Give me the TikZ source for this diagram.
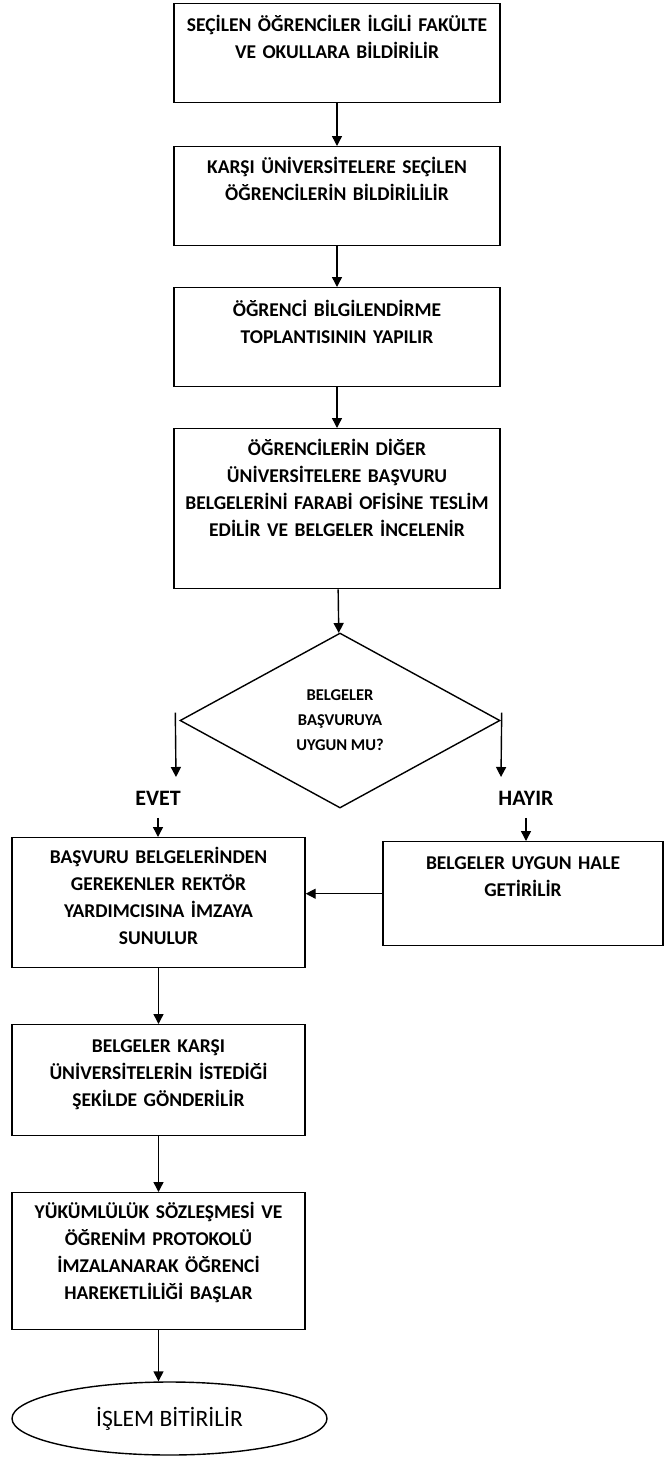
\documentclass[tikz,border=0pt]{standalone}
\usepackage{fontspec}
\setmainfont{Carlito}
\usetikzlibrary{shapes.geometric, arrows.meta}

\begin{document}
\begin{tikzpicture}[x=1pt, y=-1pt, line width=1.4pt,
        stepbox/.style={draw, rectangle, anchor=north, inner sep=0pt,
            text width=#1, align=center, text height=28pt,
            font=\bfseries\fontsize{19.5}{27}\selectfont},
        decision/.style={draw, diamond, minimum width=320pt,
            minimum height=175pt, inner sep=0pt, align=center,
            font=\bfseries\fontsize{16.5}{25}\selectfont},
        endbox/.style={draw, ellipse, minimum width=315pt,
            minimum height=73pt, inner sep=0pt,
            font=\fontsize{23.5}{27}\selectfont},
        branch/.style={inner sep=12pt, font=\bfseries\fontsize{22}{26}\selectfont},
        arr/.style={-{Triangle[width=10pt, length=10pt]}}]
        \useasboundingbox (0, 0) rectangle (665, 1457);
        % main column, first four steps
        \node[stepbox=326pt, text height=28pt, text depth=71pt] (sel) at (337, 3)
            {SEÇİLEN ÖĞRENCİLER İLGİLİ FAKÜLTE\\VE OKULLARA BİLDİRİLİR};
        \node[stepbox=326pt, text height=27pt, text depth=72pt] (kar) at (337, 146)
            {KARŞI ÜNİVERSİTELERE SEÇİLEN\\ÖĞRENCİLERİN BİLDİRİLİLİR};
        \node[stepbox=326pt, text height=29pt, text depth=70pt] (top) at (337, 287)
            {ÖĞRENCİ BİLGİLENDİRME\\TOPLANTISININ YAPILIR};
        \node[stepbox=326pt, text height=27pt, text depth=133pt] (tes) at (337, 428)
            {ÖĞRENCİLERİN DİĞER\\ÜNİVERSİTELERE BAŞVURU\\BELGELERİNİ FARABİ OFİSİNE TESLİM\\EDİLİR VE BELGELER İNCELENİR};
        \draw[arr] (sel) -- (kar);
        \draw[arr] (kar) -- (top);
        \draw[arr] (top) -- (tes);
        % the check, with its two ways out
        \node[decision] (chk) at (340, 720.5) {BELGELER\\BAŞVURUYA\\UYGUN MU?};
        \draw[arr] (tes) -- (chk);
        \coordinate (yesend) at (176, 777);
        \coordinate (noend) at (501, 777);
        \draw[arr] ([xshift=-4pt, yshift=8pt]chk.west) -- (yesend);
        \draw[arr] ([xshift=1pt, yshift=8pt]chk.east) -- (noend);
        \node[branch] (evet) at (158, 798) {EVET};
        \node[branch] (hay) at (526, 798) {HAYIR};
        % yes side and no side
        \node[stepbox=293pt, text height=26pt, text depth=104pt] (imz) at (158.5, 837)
            {BAŞVURU BELGELERİNDEN\\GEREKENLER REKTÖR\\YARDIMCISINA İMZAYA\\SUNULUR};
        \node[stepbox=280pt, text height=28pt, text depth=76pt] (uyg) at (523, 841)
            {BELGELER UYGUN HALE\\GETİRİLİR};
        \draw[arr] (evet.south) -- (evet.south |- imz.north);
        \draw[arr] (hay.south) -- (hay.south |- uyg.north);
        \draw[arr] (uyg.west) -- (uyg.west -| imz.east);
        % last steps and the end
        \node[stepbox=293pt, text height=28pt, text depth=83pt] (gon) at (158.5, 1024)
            {BELGELER KARŞI\\ÜNİVERSİTELERİN İSTEDİĞİ\\ŞEKİLDE GÖNDERİLİR};
        \node[stepbox=293pt, text height=26pt, text depth=111pt] (har) at (158.5, 1192)
            {YÜKÜMLÜLÜK SÖZLEŞMESİ VE\\ÖĞRENİM PROTOKOLÜ\\İMZALANARAK ÖĞRENCİ\\HAREKETLİLİĞİ BAŞLAR};
        \node[endbox] (bit) at (169.5, 1418.5) {İŞLEM BİTİRİLİR};
        \draw[arr] (imz) -- (gon);
        \draw[arr] (gon) -- (har);
        \draw[arr] (har.south) -- (har.south |- bit.north);
    \end{tikzpicture}
\end{document}
